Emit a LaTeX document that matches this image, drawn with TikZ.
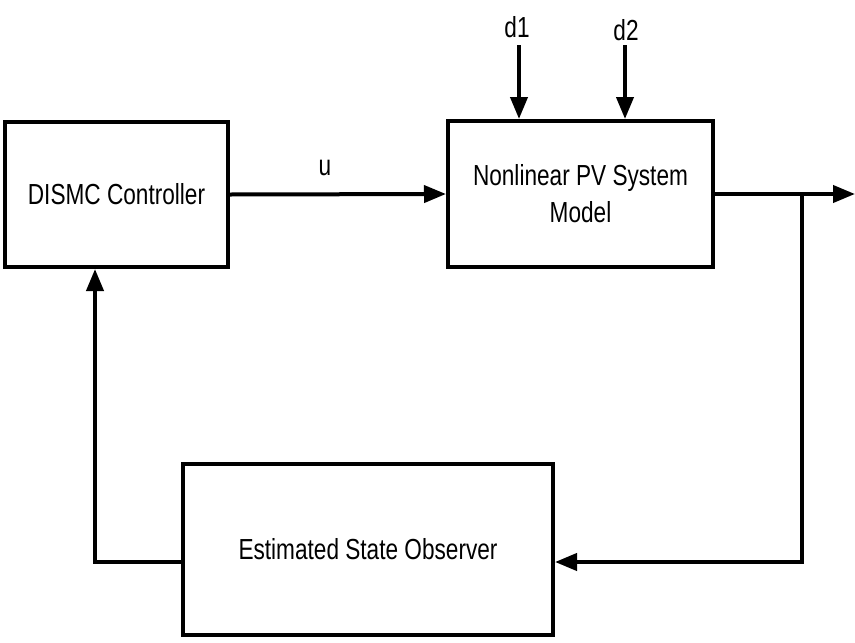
\documentclass[tikz,border=0pt]{standalone}
\usepackage{fontspec}
\setmainfont[FakeStretch=0.78]{Liberation Sans}
\usetikzlibrary{arrows.meta}
\begin{document}
\begin{tikzpicture}[x=1pt,y=-1pt,
  blk/.style={draw, line width=4pt, minimum width=#1, inner sep=0pt, font=\fontsize{29}{37}\selectfont, align=center},
  conn/.style={line width=4pt, -{Triangle[length=22pt,width=17pt]}},
  plain/.style={line width=4pt},
  lbl/.style={font=\fontsize{29}{37}\selectfont, inner sep=0pt}]
\useasboundingbox (0,0) rectangle (855,643);
\node[blk=223pt, minimum height=145pt] (ctrl) at (116.5,194.5) {DISMC Controller};
\node[blk=265pt, minimum height=146pt] (pv) at (580.5,194) {Nonlinear PV System\\Model};
\node[blk=370pt, minimum height=171pt] (obs) at (368,549.5) {Estimated State Observer};
\coordinate (out) at (855,194);
\coordinate (br) at (802,194);
\coordinate (brd) at (802,562);
\coordinate (fb) at (95,562);
\coordinate (d1t) at (519,45);
\coordinate (d2t) at (625,45);
\node[lbl] (u) at (325,168) {u};
\node[lbl] (d1) at (517,27) {d1};
\node[lbl] (d2) at (626,30) {d2};
\draw[conn] (ctrl.east) -- (pv.west);
\draw[conn] (pv.east) -- (out);
\draw[conn] (d1t) -- (d1t |- pv.north);
\draw[conn] (d2t) -- (d2t |- pv.north);
\draw[conn] (br) -- (brd) -- (obs.east |- brd);
\draw[conn] (obs.west |- fb) -- (fb) -- (fb |- ctrl.south);
\end{tikzpicture}
\end{document}
